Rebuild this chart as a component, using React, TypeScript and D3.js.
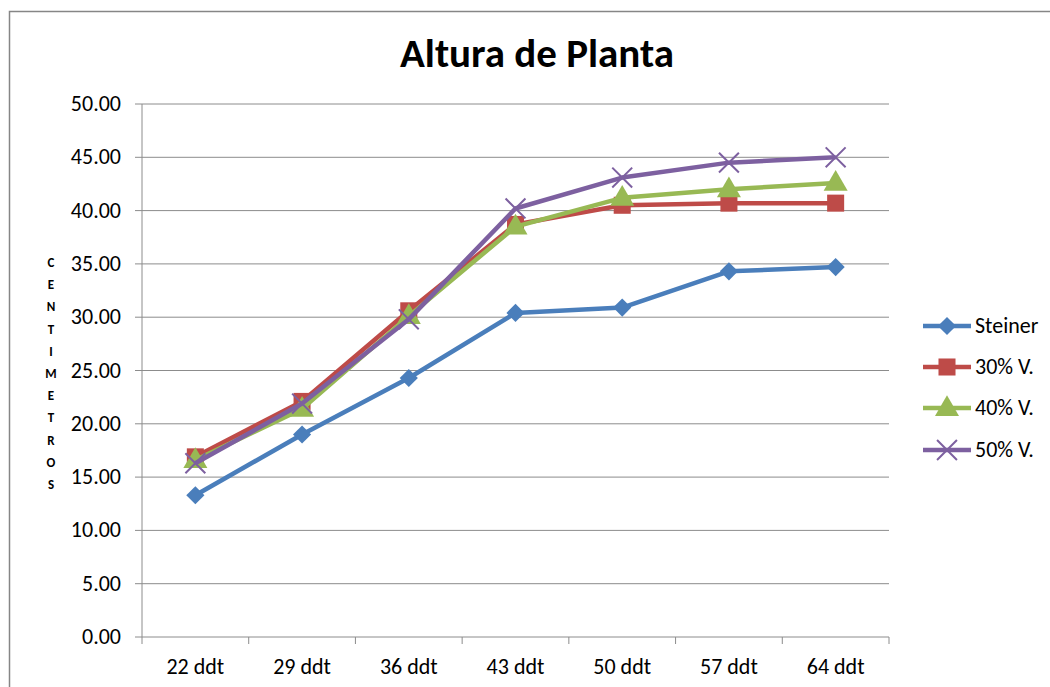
import React from 'react';
import * as d3 from 'd3';

const categories = ['22 ddt', '29 ddt', '36 ddt', '43 ddt', '50 ddt', '57 ddt', '64 ddt'];
const steiner = [13.3, 19.0, 24.3, 30.4, 30.9, 34.3, 34.7];
const v30 = [16.9, 22.1, 30.6, 38.7, 40.5, 40.7, 40.7];
const v40 = [16.6, 21.4, 30.1, 38.5, 41.2, 42.0, 42.6];
const v50 = [16.3, 21.9, 29.8, 40.2, 43.1, 44.5, 45.0];
const seriesNames = ['Steiner', '30% V.', '40% V.', '50% V.'];
const yTicks = [0, 5, 10, 15, 20, 25, 30, 35, 40, 45, 50];
const axisTitle = 'CENTIMETROS';

const colors = ['#4a7ebb', '#be4b48', '#98b954', '#7d60a0'];
const font = 'Carlito, Calibri, "Open Sans", sans-serif';

const W = 1050;
const H = 687;
const left = 142;
const right = 889;
const top = 104;
const bottom = 637;

function Marker({ kind, x, y, color }: { kind: number; x: number; y: number; color: string }) {
  if (kind === 0) {
    const p = d3.symbol().type(d3.symbolSquare).size(165)();
    return <path d={p || ''} transform={`translate(${x},${y}) rotate(45)`} fill={color} />;
  }
  if (kind === 1) {
    const p = d3.symbol().type(d3.symbolSquare).size(290)();
    return <path d={p || ''} transform={`translate(${x},${y})`} fill={color} />;
  }
  if (kind === 2) {
    const p = d3.symbol().type(d3.symbolTriangle).size(250)();
    return <path d={p || ''} transform={`translate(${x},${y + 1})`} fill={color} />;
  }
  const p = d3.symbol().type(d3.symbolTimes).size(260)();
  return <path d={p || ''} transform={`translate(${x},${y})`} fill="none" stroke={color} strokeWidth={2} />;
}

export default function App() {
  const data = [steiner, v30, v40, v50];
  const x = d3.scaleBand<string>().domain(categories).range([left, right]).padding(0);
  const y = d3.scaleLinear().domain([0, 50]).range([bottom, top]);
  const cx = (c: string) => (x(c) || 0) + x.bandwidth() / 2;
  const line = d3
    .line<number>()
    .x((_, i) => cx(categories[i]))
    .y((d) => y(d));

  const letters = axisTitle.split('');
  const legendY = [326, 367, 408, 450];
  const boundaries = categories.map((c) => x(c) || 0).concat([right]);

  return (
    <svg width={W} height={H} style={{ position: 'absolute', left: 0, top: 0, background: '#fff' }}>
      <rect x={9.5} y={11.5} width={W + 20} height={H + 20} fill="#fff" stroke="#868686" strokeWidth={1.5} />

      <text x={537} y={67} textAnchor="middle" fontFamily={font} fontWeight="bold" fontSize={41} fill="#000">
        Altura de Planta
      </text>

      {/* gridlines */}
      {yTicks.map((t) => (
        <g key={t}>
          {t > 0 && <line x1={left} x2={right} y1={y(t)} y2={y(t)} stroke="#8c8c8c" strokeWidth={1} />}
          <line x1={left - 7} x2={left} y1={y(t)} y2={y(t)} stroke="#8c8c8c" strokeWidth={1} />
          <text x={121} y={y(t) + 7} textAnchor="end" fontFamily={font} fontSize={22} fill="#000">
            {t.toFixed(2)}
          </text>
        </g>
      ))}

      {/* axes */}
      <line x1={left} x2={left} y1={top} y2={bottom} stroke="#8c8c8c" strokeWidth={1} />
      <line x1={left} x2={right} y1={bottom} y2={bottom} stroke="#8c8c8c" strokeWidth={1} />
      {boundaries.map((b, i) => (
        <line key={i} x1={b} x2={b} y1={bottom} y2={bottom + 7} stroke="#8c8c8c" strokeWidth={1} />
      ))}
      {categories.map((c) => (
        <text key={c} x={cx(c)} y={674} textAnchor="middle" fontFamily={font} fontSize={22} fill="#000">
          {c}
        </text>
      ))}

      {/* vertical axis title */}
      {letters.map((l, i) => (
        <text key={i} x={51} y={267 + i * 22.2} textAnchor="middle" fontFamily={font} fontWeight="bold" fontSize={13} fill="#000">
          {l}
        </text>
      ))}

      {/* series */}
      {data.map((s, si) => (
        <g key={si}>
          <path d={line(s) || ''} fill="none" stroke={colors[si]} strokeWidth={4.5} strokeLinejoin="round" />
          {s.map((v, i) => (
            <Marker key={i} kind={si} x={cx(categories[i])} y={y(v)} color={colors[si]} />
          ))}
        </g>
      ))}

      {/* legend */}
      {seriesNames.map((n, i) => (
        <g key={n}>
          <line x1={923} x2={971} y1={legendY[i]} y2={legendY[i]} stroke={colors[i]} strokeWidth={4.5} />
          <Marker kind={i} x={947} y={legendY[i]} color={colors[i]} />
          <text x={975} y={legendY[i] + 7} fontFamily={font} fontSize={22} fill="#000">
            {n}
          </text>
        </g>
      ))}
    </svg>
  );
}
